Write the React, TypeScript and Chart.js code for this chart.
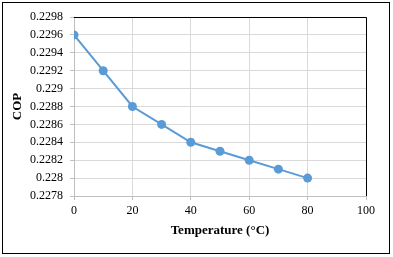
import React, { useEffect, useRef } from "react";
import { Chart, registerables } from "chart.js";

Chart.register(...registerables);

const temperatures = [0, 10, 20, 30, 40, 50, 60, 70, 80];
const copValues = [0.2296, 0.2292, 0.2288, 0.2286, 0.2284, 0.2283, 0.2282, 0.2281, 0.228];
const yTickLabels = ["0.2278", "0.228", "0.2282", "0.2284", "0.2286", "0.2288", "0.229", "0.2292", "0.2294", "0.2296", "0.2298"];
const xTickLabels = ["0", "20", "40", "60", "80", "100"];

const FONT = "'Liberation Serif', 'Times New Roman', serif";

const frame = {
  id: "frame",
  afterDraw(chart: any) {
    const { ctx, chartArea } = chart;
    ctx.save();
    ctx.strokeStyle = "#000";
    ctx.lineWidth = 1;
    ctx.strokeRect(2.5, 2.5, 387, 251);
    ctx.beginPath();
    ctx.moveTo(chartArea.left, Math.round(chartArea.top) + 0.5);
    ctx.lineTo(Math.round(chartArea.right) + 0.5, Math.round(chartArea.top) + 0.5);
    ctx.lineTo(Math.round(chartArea.right) + 0.5, chartArea.bottom);
    ctx.stroke();
    ctx.restore();
  },
};

export default function App() {
  const ref = useRef<HTMLCanvasElement>(null);
  useEffect(() => {
    if (!ref.current) return;
    const chart = new Chart(ref.current, {
      type: "scatter",
      data: {
        datasets: [
          {
            data: temperatures.map((t, i) => ({ x: t, y: copValues[i] })),
            showLine: true,
            borderColor: "#5b9bd5",
            backgroundColor: "#5b9bd5",
            borderWidth: 2,
            pointRadius: 4.5,
            pointHoverRadius: 4.5,
            pointBorderWidth: 0,
          },
        ],
      },
      options: {
        responsive: false,
        animation: false,
        devicePixelRatio: 1,
        layout: { padding: { left: 0, top: 17, right: 27, bottom: 0 } },
        plugins: { legend: { display: false }, tooltip: { enabled: false } },
        scales: {
          x: {
            type: "linear",
            min: 0,
            max: 100,
            afterBuildTicks: (s: any) => {
              s.ticks = xTickLabels.map((v) => ({ value: Number(v) }));
            },
            afterFit: (s: any) => {
              s.height = 61;
            },
            ticks: {
              color: "#000",
              font: { family: FONT, size: 12 },
              padding: 4,
              maxRotation: 0,
              callback: (v: any) => String(v),
            },
            grid: {
              color: "#d9d9d9",
              tickColor: "#bfbfbf",
              tickLength: 4,
              lineWidth: 1,
            },
            border: { color: "#bfbfbf", width: 1 },
            title: {
              display: true,
              text: "Temperature (°C)",
              color: "#000",
              font: { family: FONT, size: 13, weight: "bold" },
              padding: { top: 0, bottom: 19 },
            },
          },
          y: {
            type: "linear",
            min: 0.2278,
            max: 0.2298,
            afterBuildTicks: (s: any) => {
              s.ticks = yTickLabels.map((v) => ({ value: Number(v) }));
            },
            afterFit: (s: any) => {
              s.width = 74;
            },
            ticks: {
              color: "#000",
              font: { family: FONT, size: 12 },
              padding: 7,
              callback: (v: any) => {
                const found = yTickLabels.find((l) => Math.abs(Number(l) - v) < 1e-9);
                return found ?? String(v);
              },
            },
            grid: {
              color: "#d9d9d9",
              tickColor: "#bfbfbf",
              tickLength: 4,
              lineWidth: 1,
            },
            border: { color: "#bfbfbf", width: 1 },
            title: {
              display: true,
              text: "COP",
              color: "#000",
              font: { family: FONT, size: 13, weight: "bold" },
              padding: { top: 10, bottom: 0 },
            },
          },
        },
      },
      plugins: [frame],
    });
    return () => chart.destroy();
  }, []);
  return (
    <div style={{ position: "fixed", left: 0, top: 0, width: 393, height: 257, background: "#fff" }}>
      <canvas ref={ref} width={393} height={257} style={{ display: "block" }} />
    </div>
  );
}
